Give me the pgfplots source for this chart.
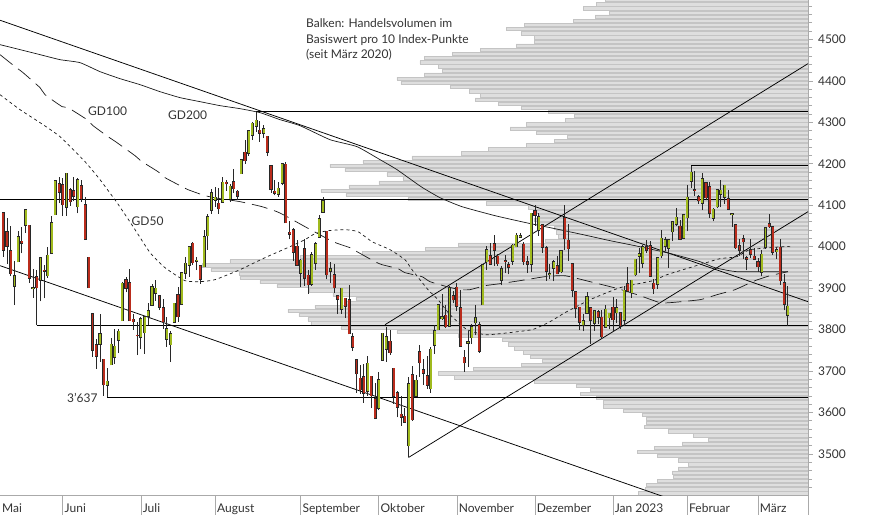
\documentclass[border=0pt]{standalone}
\usepackage{fontspec}
\setmainfont{Lato}
\usepackage{pgfplots}
\usepackage{pgfplotstable}
\pgfplotsset{compat=1.18}
\definecolor{upc}{RGB}{160,186,30}
\definecolor{dnc}{RGB}{186,44,28}
\definecolor{volfill}{RGB}{222,222,222}
\definecolor{voldraw}{RGB}{196,196,196}
\definecolor{txt}{RGB}{51,51,51}
\definecolor{axc}{RGB}{170,170,170}
\definecolor{wick}{RGB}{40,40,40}

\pgfplotstableread{
i O H L C
0 4081.27 4081.27 3975.48 3991.24
1 4035.18 4068.82 3958.17 4001.05
2 3990.08 4049.09 3928.82 3935.18
3 3903.95 3964.80 3858.87 3930.08
4 3963.90 4038.88 3963.90 4023.89
5 4013.02 4046.46 3983.99 4008.01
6 4052.00 4090.72 4033.93 4088.85
7 4051.98 4051.98 3911.91 3923.68
8 3899.00 3945.96 3876.58 3900.79
9 3927.76 3943.42 3810.32 3901.36
10 3919.42 3975.15 3868.14 3973.75
11 3942.94 3955.68 3875.13 3941.48
12 3929.59 3999.33 3925.03 3978.73
13 3984.60 4075.14 3984.60 4057.84
14 4077.43 4158.49 4077.43 4158.24
15 4151.09 4168.34 4104.88 4132.15
16 4149.78 4166.54 4073.85 4101.23
17 4095.41 4177.51 4074.37 4176.82
18 4137.57 4142.67 4098.67 4108.54
19 4134.72 4168.78 4109.18 4121.43
20 4096.47 4164.86 4080.19 4160.68
21 4147.12 4160.14 4107.20 4115.77
22 4101.65 4119.10 4017.17 4017.82
23 3974.39 3974.39 3900.16 3900.86
24 3838.15 3838.15 3734.30 3749.63
25 3763.52 3778.18 3705.68 3735.48
26 3764.05 3837.56 3722.30 3789.99
27 3728.18 3728.18 3639.77 3666.77
28 3665.90 3707.71 3636.87 3674.84
29 3715.31 3779.65 3715.31 3764.79
30 3733.89 3801.79 3717.69 3759.89
31 3774.71 3802.58 3743.52 3795.73
32 3821.75 3913.65 3821.75 3911.74
33 3920.76 3927.72 3889.66 3900.11
34 3913.00 3945.86 3820.14 3821.55
35 3825.09 3836.50 3799.02 3818.83
36 3785.99 3818.99 3738.67 3785.38
37 3781.00 3829.82 3752.10 3825.33
38 3792.61 3832.19 3742.06 3831.39
39 3831.98 3863.61 3810.69 3845.08
40 3858.85 3910.63 3858.85 3902.62
41 3888.26 3918.50 3869.34 3899.38
42 3880.94 3880.94 3847.22 3854.43
43 3851.95 3873.41 3802.36 3818.80
44 3776.46 3829.44 3758.89 3801.78
45 3763.99 3796.41 3721.56 3790.38
46 3818.00 3863.62 3817.18 3863.16
47 3883.79 3902.44 3818.63 3830.85
48 3860.73 3939.81 3860.73 3936.69
49 3935.32 3974.13 3922.03 3959.90
50 3955.47 3999.29 3927.64 3998.95
51 4007.66 4012.44 3955.77 3961.63
52 3965.72 3975.30 3943.46 3966.84
53 3953.22 3953.22 3910.74 3921.05
54 3951.43 4039.56 3951.43 4023.61
55 4026.13 4078.95 3992.97 4072.43
56 4087.33 4140.15 4079.22 4130.29
57 4112.38 4144.95 4096.02 4118.63
58 4104.21 4140.47 4079.81 4091.19
59 4107.96 4167.66 4107.96 4155.17
60 4154.85 4161.29 4135.42 4151.94
61 4115.87 4151.58 4107.31 4145.19
62 4155.93 4186.62 4128.97 4140.06
63 4133.11 4137.30 4112.09 4122.47
64 4176.22 4211.03 4176.22 4210.24
65 4227.40 4257.91 4200.08 4207.27
66 4225.02 4280.47 4219.78 4280.15
67 4269.37 4301.79 4256.90 4297.14
68 4290.46 4325.28 4277.77 4305.20
69 4280.40 4302.18 4253.08 4274.04
70 4273.13 4292.53 4261.98 4283.74
71 4266.31 4266.31 4218.70 4228.48
72 4195.08 4195.08 4129.86 4137.99
73 4133.09 4159.77 4124.03 4128.73
74 4126.55 4156.56 4119.97 4140.77
75 4153.26 4200.54 4147.59 4199.12
76 4198.74 4203.04 4057.66 4057.66
77 4034.58 4062.99 4017.42 4030.61
78 4041.25 4044.98 3965.21 3986.16
79 4000.67 4015.37 3954.53 3955.00
80 3936.73 3970.23 3903.65 3966.85
81 3994.66 4018.43 3906.21 3924.26
82 3930.89 3942.55 3886.75 3908.19
83 3909.43 3987.89 3906.03 3979.87
84 3959.94 4010.50 3944.81 4006.18
85 4022.94 4076.81 4022.94 4067.36
86 4083.67 4119.28 4083.67 4110.41
87 4037.12 4037.12 3921.12 3932.69
88 3940.73 3961.94 3912.55 3946.01
89 3932.41 3959.14 3888.28 3901.35
90 3880.95 3880.95 3837.08 3873.33
91 3849.91 3900.45 3838.50 3899.89
92 3875.23 3876.01 3827.54 3855.93
93 3871.40 3907.07 3789.49 3789.93
94 3782.36 3790.68 3749.45 3757.99
95 3727.14 3727.14 3647.47 3693.23
96 3682.72 3715.67 3644.76 3655.04
97 3686.44 3717.53 3623.29 3647.29
98 3651.94 3736.74 3640.61 3719.04
99 3687.01 3687.01 3610.40 3640.47
100 3633.48 3671.44 3584.13 3585.62
101 3609.78 3698.35 3604.93 3678.43
102 3726.46 3791.92 3726.46 3790.93
103 3753.25 3806.91 3722.66 3783.28
104 3771.97 3797.93 3739.22 3744.52
105 3706.74 3706.74 3620.73 3639.66
106 3647.51 3652.17 3588.10 3612.39
107 3595.86 3640.66 3568.45 3588.84
108 3590.83 3611.49 3575.69 3577.03
109 3520.37 3685.41 3491.58 3669.91
110 3690.41 3712.00 3579.68 3583.07
111 3638.65 3689.73 3638.65 3677.95
112 3746.26 3762.79 3686.53 3719.98
113 3703.11 3728.58 3666.51 3695.16
114 3689.05 3736.00 3656.44 3665.78
115 3657.10 3757.89 3647.42 3752.75
116 3762.01 3810.74 3741.65 3797.34
117 3799.44 3862.85 3799.44 3859.11
118 3825.97 3886.15 3824.07 3830.60
119 3834.69 3859.95 3803.79 3807.30
120 3808.26 3905.42 3808.26 3901.06
121 3881.85 3893.73 3863.18 3871.98
122 3901.79 3911.79 3843.80 3856.10
123 3852.90 3894.44 3758.68 3759.69
124 3733.25 3750.59 3698.15 3719.89
125 3766.98 3796.34 3708.84 3770.55
126 3780.71 3813.95 3764.70 3806.80
127 3817.02 3859.40 3786.28 3828.11
128 3810.94 3818.20 3744.22 3748.57
129 3859.89 3958.33 3859.89 3956.37
130 3963.72 4001.48 3944.82 3992.93
131 3977.97 4008.97 3956.40 3957.25
132 4006.41 4028.84 3953.17 3991.73
133 3976.82 3983.09 3954.34 3958.79
134 3919.26 3954.33 3906.54 3946.56
135 3966.39 3979.89 3935.98 3965.34
136 3956.23 3962.00 3933.34 3949.94
137 3965.51 4005.88 3956.88 4003.58
138 4000.30 4033.78 3998.66 4027.26
139 4023.34 4034.02 4020.76 4026.12
140 4005.36 4012.27 3955.77 3963.94
141 3964.19 3976.77 3937.65 3957.63
142 3957.18 4080.11 3938.58 4080.11
143 4087.14 4100.51 4050.87 4076.57
144 4040.17 4080.48 4026.63 4071.70
145 4052.02 4052.45 3984.49 3998.84
146 3996.63 4001.51 3918.39 3941.26
147 3933.28 3957.57 3922.68 3933.92
148 3947.79 3966.85 3916.54 3963.51
149 3954.17 3977.02 3933.04 3934.38
150 3939.29 3990.71 3935.30 3990.56
151 4069.38 4100.96 3993.03 4019.65
152 4015.54 4053.76 3965.65 3995.32
153 3958.37 3958.37 3879.45 3895.75
154 3890.91 3890.91 3827.91 3852.36
155 3853.79 3854.86 3800.04 3817.66
156 3810.47 3838.24 3795.62 3821.62
157 3839.49 3889.82 3839.49 3878.44
158 3853.26 3853.26 3764.49 3822.39
159 3815.11 3845.80 3797.01 3844.82
160 3843.34 3846.65 3813.22 3829.25
161 3829.56 3848.32 3780.78 3783.22
162 3805.45 3858.19 3805.45 3849.28
163 3829.06 3839.85 3800.34 3839.50
164 3853.29 3878.46 3794.33 3824.14
165 3840.36 3873.16 3815.77 3852.97
166 3839.74 3839.74 3802.42 3808.10
167 3823.37 3906.19 3809.56 3895.08
168 3910.82 3950.57 3890.42 3892.09
169 3888.57 3919.83 3877.29 3919.25
170 3932.35 3970.07 3928.54 3969.61
171 3977.57 3997.76 3937.56 3983.17
172 3960.60 4003.95 3947.67 3999.09
173 3999.28 4015.39 3984.57 3990.97
174 4002.25 4014.16 3926.59 3928.86
175 3911.84 3922.94 3885.54 3898.85
176 3909.04 3972.96 3897.86 3972.61
177 3978.14 4039.31 3971.64 4019.81
178 4001.74 4023.92 3989.79 4016.95
179 3996.34 4019.55 3949.06 4016.22
180 4036.08 4061.57 4013.29 4060.43
181 4053.72 4094.21 4048.70 4070.56
182 4049.27 4063.85 4015.55 4017.77
183 4020.85 4077.16 4020.44 4076.60
184 4070.07 4148.95 4037.20 4119.21
185 4158.68 4195.44 4141.88 4179.76
186 4136.69 4182.36 4123.36 4136.48
187 4119.57 4124.63 4103.98 4111.08
188 4105.35 4176.54 4088.39 4164.00
189 4153.47 4156.85 4111.67 4117.86
190 4144.25 4156.23 4069.67 4081.50
191 4068.92 4094.36 4060.79 4090.46
192 4096.62 4138.90 4092.67 4137.29
193 4126.70 4159.77 4095.01 4136.13
194 4119.50 4148.11 4103.98 4147.60
195 4114.75 4136.54 4089.49 4090.41
196 4077.39 4081.51 4047.95 4079.09
197 4052.35 4052.35 3995.19 3997.34
198 4001.83 4017.37 3976.90 3991.05
199 4018.60 4028.30 3969.19 4012.32
200 3973.24 3978.25 3943.08 3970.04
201 3992.36 4018.05 3973.55 3982.24
202 3977.19 3997.50 3968.98 3970.15
203 3963.34 3971.73 3939.05 3951.39
204 3938.68 3990.84 3928.16 3981.35
205 3998.02 4048.29 3995.17 4045.64
206 4055.15 4078.49 4044.61 4048.42
207 4048.26 4050.00 3980.31 3986.37
208 3987.55 4000.41 3969.76 3992.01
209 3998.66 4017.81 3908.70 3918.32
210 3912.77 3934.05 3846.32 3861.59
211 3835.12 3905.05 3808.86 3855.76
}\candles

\pgfplotstableread{
v len
4595 203
4585 212
4575 225
4565 199
4555 213
4545 235
4535 284
4525 302
4515 287
4505 274
4495 274
4485 292
4475 328
4465 356
4455 384
4445 388
4435 370
4425 366
4415 384
4405 411
4395 407
4385 358
4375 339
4365 328
4355 333
4345 310
4335 287
4325 260
4315 234
4305 243
4295 282
4285 298
4275 272
4265 241
4255 254
4245 282
4235 320
4225 347
4215 396
4205 445
4195 478
4185 463
4175 421
4165 405
4155 429
4145 459
4135 487
4125 462
4115 400
4105 322
4095 280
4085 274
4075 269
4065 274
4055 270
4045 254
4035 252
4025 250
4015 263
4005 350
3995 383
3985 446
3975 508
3965 578
3955 606
3945 597
3935 569
3925 568
3915 548
3905 531
3895 499
3885 475
3875 452
3865 463
3855 493
3845 520
3835 509
3825 500
3815 497
3805 467
3795 411
3785 350
3775 306
3765 300
3755 294
3745 285
3735 278
3725 266
3715 287
3705 335
3695 370
3685 354
3675 274
3665 232
3655 218
3645 228
3635 212
3625 205
3615 205
3605 185
3595 166
3585 162
3575 162
3565 164
3555 140
3545 115
3535 100
3525 126
3515 154
3505 171
3495 151
3485 130
3475 120
3465 130
3455 136
3445 135
3435 151
3425 162
3415 163
3405 170
}\volprof

\begin{document}
\begin{tikzpicture}[x=1pt,y=1pt]
\useasboundingbox (0,-20) rectangle (874,495);
% volume profile
\begin{axis}[at={(0pt,0pt)}, anchor=south west, scale only axis,
  width=808pt, height=495pt,
  xmin=0, xmax=808, x dir=reverse, ymin=3401, ymax=4595,
  hide axis, xbar, bar width=8]
\addplot[fill=volfill, draw=voldraw, line width=0.5pt] table[x=len,y=v]{\volprof};
\end{axis}
% main chart
\begin{axis}[at={(0pt,0pt)}, anchor=south west, scale only axis,
  width=808pt, height=495pt,
  xmin=-0.888, xmax=216.44, ymin=3401, ymax=4595,
  axis x line*=bottom, axis y line*=right,
  axis line style={draw=axc, line width=0.8pt},
  xtick=\empty,
  ytick={3500,3600,3700,3800,3900,4000,4100,4200,4300,4400,4500},
  yticklabels={3500,3600,3700,3800,3900,4000,4100,4200,4300,4400,4500},
  minor ytick={3420,3440,...,4580},
  tick align=outside,
  major tick length=4.5pt, minor tick length=4pt,
  every tick/.style={draw=axc, line width=0.6pt},
  yticklabel style={font=\fontsize{12}{14}\selectfont, text=txt, anchor=west, xshift=2pt},
]
% horizontal levels
\addplot[black, line width=1pt] coordinates {(-0.888,4113) (216.44,4113)};
\addplot[black, line width=1pt] coordinates {(9,3810.3) (216.44,3810.3)};
\addplot[black, line width=1pt] coordinates {(28,3636.9) (216.44,3636.9)};
\addplot[black, line width=1pt] coordinates {(68,4325.3) (216.44,4325.3)};
\addplot[black, line width=1pt] coordinates {(185,4195.4) (216.44,4195.4)};
% trend lines
\addplot[black, line width=0.75pt] coordinates {(-0.888,4546.2) (216.44,3867.3)};
\addplot[black, line width=0.75pt] coordinates {(-0.888,3954.2) (216.44,3275.8)};
\addplot[black, line width=0.75pt] coordinates {(102.66,3811.8) (216.44,4441.5)};
\addplot[black, line width=0.75pt] coordinates {(109,3491.6) (216.44,4084.4)};
% GD200
\addplot[black!90, line width=0.7pt, smooth, tension=0.3] coordinates {
(-0.89,4487.3) (4.49,4475.3) (9.87,4463.2) (15.25,4451.1) (20.63,4443.9) (26.01,4422.2)
(31.39,4405.3) (36.77,4390.8) (42.15,4373.9) (47.53,4359.5) (52.91,4349.8) (58.28,4340.2)
(63.66,4332.9) (69.04,4323.3) (74.42,4306.4) (79.80,4291.9) (87.87,4258.1) (95.13,4241.3)
(101.32,4209.9) (105.89,4185.8) (112.34,4144.8) (117.45,4118.2) (123.37,4096.5) (132.25,4074.8)
(140.59,4057.9) (148.39,4043.4) (155.92,4029.0) (163.18,4014.5) (169.90,4002.4) (179.59,3983.1)
(187.39,3963.8) (191.42,3949.3) (197.34,3939.7) (211.05,3939.7)};
% GD100
\addplot[black!90, line width=0.7pt, dash pattern=on 16pt off 7pt, smooth, tension=0.3] coordinates {
(-0.89,4463.2) (3.15,4434.3) (5.30,4419.8) (9.87,4383.6) (11.22,4366.7) (15.79,4337.8)
(17.40,4335.3) (22.51,4306.4) (24.13,4291.9) (28.16,4265.4) (30.58,4250.9) (35.42,4219.5)
(37.30,4205.1) (41.61,4180.9) (43.49,4166.5) (48.06,4144.8) (49.68,4137.5) (54.25,4123.0)
(58.28,4115.8) (63.66,4108.6) (69.58,4096.5) (73.61,4084.4) (76.30,4072.4) (81.14,4048.3)
(88.67,4012.1) (93.24,3997.6) (95.13,3987.9) (99.97,3963.8) (101.85,3956.6) (106.16,3946.9)
(108.04,3937.3) (112.61,3927.6) (114.76,3915.6) (119.34,3903.5) (122.83,3896.3) (125.52,3896.3)
(129.56,3905.9) (133.59,3910.7) (138.97,3918.0) (145.69,3927.6) (151.07,3930.0) (157.80,3915.6)
(165.33,3898.7) (171.25,3881.8) (176.63,3864.9) (179.32,3864.9) (187.39,3872.1) (191.96,3884.2)
(196.80,3896.3) (202.18,3918.0) (206.22,3930.0) (211.05,3939.7)};
% GD50
\addplot[black!90, line width=0.7pt, dash pattern=on 3pt off 3pt, smooth, tension=0.3] coordinates {
(-0.89,4366.7) (4.49,4330.5) (9.87,4299.2) (15.25,4265.4) (21.97,4205.1) (26.01,4161.6)
(30.58,4106.2) (34.91,4048.3) (39.48,3985.5) (43.49,3949.3) (48.87,3918.0) (52.91,3915.6)
(56.94,3920.4) (63.66,3944.5) (70.39,3973.5) (77.11,4000.0) (81.14,4016.9) (83.83,4031.4)
(87.33,4038.6) (91.90,4041.0) (95.40,4036.2) (99.16,4012.1) (104.0,3992.8) (108.04,3968.6)
(109.93,3944.5) (114.23,3896.3) (116.92,3872.1) (120.15,3835.9) (124.72,3799.8) (129.56,3787.7)
(133.59,3790.1) (142.20,3799.8) (147.04,3819.1) (151.07,3840.8) (157.80,3872.1) (165.87,3901.1)
(174.75,3918.0) (178.51,3932.5) (188.20,3959.0) (192.77,3971.1) (197.34,3975.9) (200.83,3992.8)
(209.70,4000.0) (211.6,4000.0)};
% wicks
\addplot[draw=none, mark=none, forget plot,
  error bars/.cd, y dir=plus, y explicit, error mark=none,
  error bar style={draw=wick, line width=0.9pt}]
  table[x=i, y=L, y error expr={\thisrow{H}-\thisrow{L}}]{\candles};
% body outlines
\addplot[draw=none, mark=none, forget plot,
  error bars/.cd, y dir=plus, y explicit, error mark=none,
  error bar style={draw=wick, line width=3.1pt}]
  table[x=i, y expr={min(\thisrow{O},\thisrow{C})-1.5}, y error expr={abs(\thisrow{C}-\thisrow{O})+3.0}]{\candles};
% up bodies
\addplot[draw=none, mark=none, forget plot,
  restrict expr to domain={\thisrow{C}-\thisrow{O}}{0:100000},
  error bars/.cd, y dir=plus, y explicit, error mark=none,
  error bar style={draw=upc, line width=1.9pt}]
  table[x=i, y=O, y error expr={\thisrow{C}-\thisrow{O}}]{\candles};
% down bodies
\addplot[draw=none, mark=none, forget plot,
  restrict expr to domain={\thisrow{C}-\thisrow{O}}{-100000:-0.001},
  error bars/.cd, y dir=plus, y explicit, error mark=none,
  error bar style={draw=dnc, line width=1.9pt}]
  table[x=i, y=C, y error expr={\thisrow{O}-\thisrow{C}}]{\candles};
\end{axis}
% month separators and labels
\foreach \xm in {62.8,140.9,215.2,300.7,378.8,456.9,535.0,613.0,687.4,758.0,808}
  \draw[axc, line width=0.8pt] (\xm,0) -- (\xm,-20);
\begin{scope}[every node/.style={anchor=base west, inner sep=0pt, text=txt, font=\fontsize{12}{14}\selectfont}]
\node at (2,-17) {Mai};
\node at (64.5,-17) {Juni};
\node at (142.6,-17) {Juli};
\node at (217,-17) {August};
\node at (302.4,-17) {September};
\node at (380.5,-17) {Oktober};
\node at (458.6,-17) {November};
\node at (536.7,-17) {Dezember};
\node at (614.6,-17) {Jan 2023};
\node at (689,-17) {Februar};
\node at (759.6,-17) {März};
% annotations
\node at (88,379.2) {GD100};
\node at (168,375.2) {GD200};
\node at (131.5,269.7) {GD50};
\node at (67,92.5) {3'637};
\node at (306,467) {Balken: Handelsvolumen im};
\node at (306,451.5) {Basiswert pro 10 Index-Punkte};
\node at (306,436) {(seit März 2020)};
\end{scope}
\end{tikzpicture}
\end{document}
